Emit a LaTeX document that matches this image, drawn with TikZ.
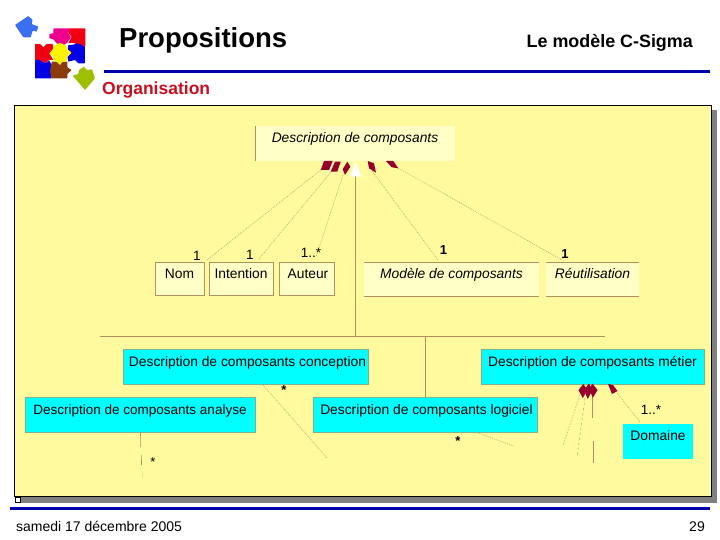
\documentclass[tikz,border=0pt]{standalone}
\usepackage{fontspec}
\setmainfont{Liberation Sans}
\definecolor{panel}{HTML}{FFFA9E}
\definecolor{pale}{HTML}{FFFFC6}
\definecolor{cyanbox}{HTML}{00FFFF}
\definecolor{tan}{HTML}{B4905E}
\definecolor{dots}{HTML}{B0A565}
\definecolor{wine}{HTML}{96002E}
\definecolor{rule}{HTML}{0000AA}
\definecolor{orgred}{HTML}{C8101E}
\definecolor{pzred}{HTML}{F00010}
\definecolor{pzblue}{HTML}{0000E6}
\definecolor{pzbrown}{HTML}{8B3A0A}
\definecolor{pzsteel}{HTML}{3B6FF0}
\definecolor{pzgreen}{HTML}{9DBF00}
\newcommand{\fs}[1]{\fontsize{#1}{#1}\selectfont}
\tikzset{
  x=1pt,y=-1pt,
  box/.style={anchor=north west,inner sep=0pt,outer sep=0pt,text depth=#1-16.5pt,text height=16.5pt,font=\fs{13.8},align=center},
  palebox/.style={fill=pale},
  cyanb/.style={fill=cyanbox,draw=tan!70!cyanbox,line width=0.5pt,text height=17.2pt,text depth=17.8pt},
  uml/.style={fill=pale,draw=tan,line width=0.7pt},
  assoc/.style={draw=dots,line width=0.5pt,dash pattern=on 1pt off 1pt},
  solidl/.style={draw=tan,line width=0.8pt},
  dia/.style={fill=wine},
  mult/.style={inner sep=0pt,font=\fs{13.5}},
  star/.style={inner sep=0pt,font=\bfseries\fs{13}},
  bluerule/.style={draw=rule,line width=3pt},
  piece/.style={rounded corners=0.6pt},
}
\begin{document}
\begin{tikzpicture}
\useasboundingbox (0,0) rectangle (720,540);
\fill[white] (0,0) rectangle (720,540);
% logo
\begin{scope}[shift={(10,10)},x=0.33333pt,y=-0.33333pt]
\fill[pzred,piece] (178,55) -- (226,55) -- (226,110) -- (205,105) -- (190,98) -- (175,100) -- (185,80) -- (175,70) -- cycle;
\fill[magenta,piece] (130,55) -- (180,55) -- (175,70) -- (183,82) -- (170,100) -- (155,108) -- (140,100) -- (130,88) -- (118,85) -- (118,72) -- (130,70) -- cycle;
\fill[pzred,piece] (75,102) -- (90,102) -- (100,112) -- (110,102) -- (128,102) -- (130,115) -- (118,130) -- (130,150) -- (118,150) -- (105,160) -- (90,150) -- (75,150) -- cycle;
\fill[pzblue,piece] (185,105) -- (205,100) -- (225,110) -- (225,160) -- (205,160) -- (195,150) -- (175,155) -- (172,140) -- (185,128) -- (173,118) -- (175,105) -- cycle;
\fill[pzblue,piece] (75,150) -- (90,150) -- (105,160) -- (118,152) -- (125,165) -- (122,185) -- (125,205) -- (75,205) -- cycle;
\fill[pzbrown,piece] (125,155) -- (140,155) -- (150,165) -- (158,155) -- (172,155) -- (172,172) -- (185,180) -- (172,192) -- (172,205) -- (125,205) -- (120,185) -- cycle;
\fill[yellow,piece] (130,108) -- (150,98) -- (170,108) -- (172,118) -- (185,128) -- (172,140) -- (170,155) -- (155,155) -- (150,165) -- (140,155) -- (130,152) -- (130,140) -- (118,130) -- (130,118) -- cycle;
\fill[pzsteel,piece] (15,45) -- (55,18) -- (68,30) -- (65,42) -- (85,50) -- (80,65) -- (68,62) -- (62,82) -- (40,82) -- cycle;
\fill[pzgreen,piece] (188,197) -- (205,192) -- (207,180) -- (222,170) -- (230,180) -- (246,178) -- (255,205) -- (225,240) -- cycle;
\end{scope}
% title
\node[inner sep=0pt,anchor=base west,font=\bfseries\fs{27.5}] (title) at (119,48) {Propositions};
\node[inner sep=0pt,anchor=base east,font=\bfseries\fs{17.9}] (subtitle) at (693,47.5) {Le modèle C-Sigma};
\draw[bluerule] (104,71.5) -- (710,71.5);
\node[inner sep=0pt,anchor=base west,font=\bfseries\fs{17.5},text=orgred] (org) at (102,94.5) {Organisation};
% panel
\fill[black!50] (18,110) rectangle (717,503);
\fill[panel,draw=black,line width=0.7pt] (14.5,105.5) rectangle (711.5,496.5);
\fill[white,draw=black,line width=0.4pt] (15,497) rectangle (20,502);
% boxes
\node[box=35pt,palebox,minimum width=200pt,font=\itshape\fs{13.8}] (desc) at (255,126) {Description de composants};
\draw[tan,line width=0.7pt] (desc.north west) -- (desc.south west);
\node[box=33pt,uml,minimum width=49pt] (nom) at (155,262) {Nom};
\node[box=33pt,uml,minimum width=64pt] (intention) at (209,262) {Intention};
\node[box=33pt,uml,minimum width=55pt] (auteur) at (279,262) {\hspace*{3pt}Auteur};
\node[box=34pt,palebox,minimum width=175pt,font=\itshape\fs{13.8}] (modele) at (364,262) {Modèle de composants};
\draw[solidl,line width=0.7pt] (modele.north west) -- (modele.north east) (modele.south west) -- (modele.south east);
\node[box=34pt,palebox,minimum width=93pt,font=\itshape\fs{13.8}] (reut) at (546,262) {Réutilisation};
\draw[solidl,line width=0.7pt] (reut.north west) -- (reut.north east) (reut.south west) -- (reut.south east);
\node[box=35pt,cyanb,minimum width=245pt] (conc) at (123,349) {\hspace*{4pt}Description de composants conception};
\node[box=35pt,cyanb,minimum width=223pt] (metier) at (481,349) {Description de composants métier};
\node[box=35pt,cyanb,minimum width=230pt,font=\fs{13.5}] (analyse) at (25,397) {Description de composants analyse};
\node[box=35pt,cyanb,minimum width=224pt] (logiciel) at (313,397) {\hspace*{3pt}Description de composants logiciel};
\node[box=35pt,fill=cyanbox,minimum width=70pt] (domaine) at (623,424) {Domaine};
% coordinates
\coordinate (tri) at (355.5,176.5);
\coordinate (bar) at (355.5,336);
\coordinate (barl) at (100,336);
\coordinate (barr) at (605,336);
\coordinate (bar2) at (425.5,336);
\coordinate (d1) at (320.7,170);
\coordinate (d2) at (331,172);
\coordinate (d3) at (343,175);
\coordinate (d4) at (372,171);
\coordinate (d5) at (398,168);
\coordinate (e1) at (207,260);
\coordinate (e2) at (258,260);
\coordinate (e3) at (316,257);
\coordinate (e4) at (438,260);
\coordinate (e5) at (562,260);
% upper connectors
\draw[assoc] (d1) -- (e1);
\draw[assoc] (d2) -- (e2);
\draw[assoc] (d3) -- (e3);
\draw[assoc] (d4) -- (e4);
\draw[assoc] (d5) -- (e5);
\draw[solidl] (tri) -- (bar);
\draw[solidl] (barl) -- (barr);
\draw[solidl] (bar2) -- (bar2 |- logiciel.north);
% upper heads
\fill[dia] (324,161) -- (332.7,161) -- (329,170) -- (320.7,170) -- cycle;
\fill[dia] (335,161.7) -- (340.7,161.7) -- (337.3,171.7) -- (330.7,171.7) -- cycle;
\fill[dia] (347.3,161.7) -- (350.3,166.7) -- (345,175) -- (342.7,169.3) -- cycle;
\fill[white] (355.7,161) -- (361.3,176.7) -- (350.3,176.7) -- cycle;
\fill[dia] (367.7,161) -- (374,163.3) -- (376,172.7) -- (369,168.3) -- cycle;
\fill[dia] (386,161) -- (393.3,161) -- (398.3,168.3) -- (391.7,167.3) -- cycle;
% upper labels
\node[mult] (m1) at (197,255.5) {1};
\node[mult] (m2) at (250,255) {1};
\node[mult] (m3) at (311,252.5) {1..*};
\node[mult,font=\bfseries\fs{13}] (m4) at (443.5,250) {1};
\node[mult,font=\bfseries\fs{13}] (m5) at (565,254) {1};
% lower connectors
\coordinate (c1) at (263,385);
\coordinate (c2) at (327,458);
\draw[assoc] (c1) -- (c2);
\node[star] (s1) at (284,390) {*};
\coordinate (a1) at (140.5,432);
\coordinate (a2) at (140.7,447);
\coordinate (a3) at (141.4,455);
\coordinate (a4) at (141.5,465);
\coordinate (a5) at (142,473);
\coordinate (a6) at (142,478);
\draw[solidl,line width=0.6pt] (a1) -- (a2);
\draw[solidl,line width=0.6pt] (a3) -- (a4);
\draw[assoc,draw=tan!40!panel] (a5) -- (a6);
\node[star,font=\fs{13}] (s2) at (153,462) {*};
\coordinate (l1) at (475,432);
\coordinate (l2) at (514,446);
\draw[assoc] (l1) -- (l2);
\node[star] (s3) at (458,441) {*};
\coordinate (f1) at (580,395);
\coordinate (f2) at (563,445);
\coordinate (g1) at (585,398);
\coordinate (g2) at (577,457);
\coordinate (h1) at (592.5,397);
\coordinate (h2) at (592.5,418);
\coordinate (h3) at (593.3,441);
\coordinate (h4) at (593.3,463);
\coordinate (k1) at (617,393);
\coordinate (k2) at (640,422);
\draw[assoc,dash pattern=on 1.5pt off 1.5pt] (f1) -- (f2);
\draw[assoc,dash pattern=on 2.5pt off 2.5pt] (g1) -- (g2);
\draw[solidl] (h1) -- (h2);
\draw[solidl] (h3) -- (h4);
\draw[assoc] (k1) -- (k2);
\fill[dia] (578.5,390) -- (583.3,384) -- (587.5,390) -- (582.7,398) -- cycle;
\fill[dia] (584,390) -- (589,383.5) -- (592.5,390) -- (587.7,399) -- cycle;
\fill[dia] (589.5,389) -- (592.3,383.5) -- (597.5,390) -- (592.7,398) -- cycle;
\fill[dia] (608,384) -- (613,385) -- (617.5,391) -- (612,394) -- cycle;
\node[mult] (m6) at (651,410) {1..*};
% footer
\draw[bluerule] (10,508) -- (710,508);
\node[inner sep=0pt,anchor=base west,font=\fs{14}] (date) at (16,531) {samedi 17 décembre 2005};
\node[inner sep=0pt,anchor=base east,font=\fs{14}] (page) at (705,531) {29};
\end{tikzpicture}
\end{document}
